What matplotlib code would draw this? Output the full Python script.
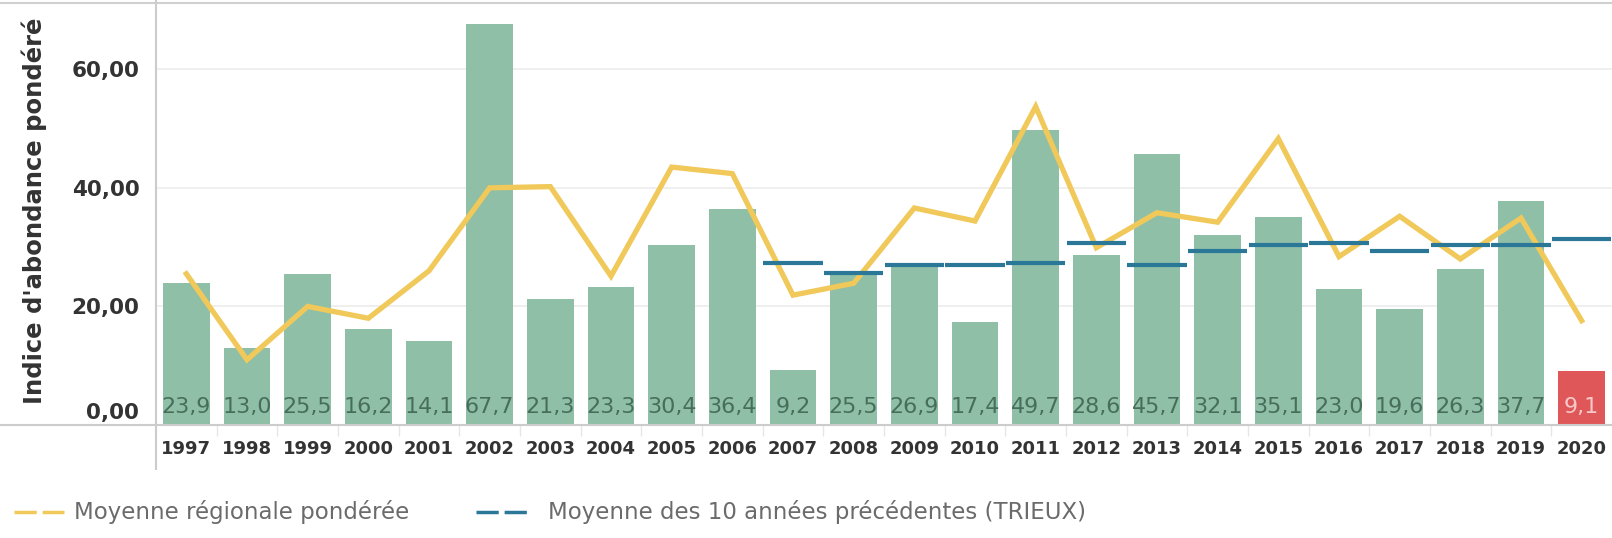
import numpy as np
import matplotlib
matplotlib.use("Agg")
import matplotlib.pyplot as plt
from matplotlib.lines import Line2D
from matplotlib.transforms import ScaledTranslation

# Données
annees = list(range(1997, 2021))
indice = [23.9, 13.0, 25.5, 16.2, 14.1, 67.7, 21.3, 23.3, 30.4, 36.4, 9.2, 25.5,
          26.9, 17.4, 49.7, 28.6, 45.7, 32.1, 35.1, 23.0, 19.6, 26.3, 37.7, 9.1]
moy_regionale = [25.5, 11.0, 20.0, 18.0, 26.0, 40.0, 40.2, 25.1, 43.5, 42.4, 21.9, 23.9,
                 36.6, 34.4, 53.7, 29.9, 35.8, 34.2, 48.3, 28.4, 35.2, 28.0, 34.9, 17.6]
annees_moy10 = list(range(2007, 2021))
moy_10ans = [27.4, 25.7, 26.9, 26.9, 27.3, 30.7, 26.9, 29.3, 30.3, 30.7, 29.4, 30.4, 30.4, 31.4]
yticks = [0, 20, 40, 60]

VERT = '#8fbfa7'
ROUGE = '#e0575a'
JAUNE = '#f0c95a'
BLEU = '#2a7798'
GRIS_AXE = '#cccccc'

W, H = 1612, 538
fig = plt.figure(figsize=(W / 100, H / 100), dpi=100)
ax = fig.add_axes([156 / W, 1 - 425 / H, 1 - 156 / W, (425 - 4) / H])

x = np.arange(len(annees))
couleurs = [VERT] * (len(annees) - 1) + [ROUGE]
ax.bar(x, indice, width=0.77, color=couleurs, zorder=2)

# étiquettes de valeur en bas des barres
for xi, v, c in zip(x, indice, couleurs):
    tc = '#f7c9c9' if c == ROUGE else '#476e5b'
    ax.text(xi, 3.0, f"{v:.1f}".replace('.', ','), ha='center', va='center',
            fontsize=16, color=tc, zorder=3)

ax.plot(x, moy_regionale, color=JAUNE, lw=3.8, solid_joinstyle='miter', zorder=4)

x10 = np.array([annees.index(a) for a in annees_moy10])
ax.hlines(moy_10ans, x10 - 0.49, x10 + 0.49, color=BLEU, lw=3.0, zorder=5)

ax.set_xlim(-0.5, len(annees) - 0.5)
ax.set_ylim(0, 71)
ax.set_yticks(yticks)
ax.set_yticklabels([f"{t:.2f}".replace('.', ',') for t in yticks])
ax.set_xticks(x)
ax.set_xticklabels([str(a) for a in annees])
ax.set_xticks(np.arange(0.5, len(annees) - 1, 1), minor=True)

ax.tick_params(axis='y', length=0, pad=12, labelsize=15.5, labelcolor='#333333')
ax.tick_params(axis='x', which='major', length=0, pad=11, labelsize=13, labelcolor='#333333')
ax.tick_params(axis='x', which='minor', length=8, width=1, color='#e6e6e6')
for lab in ax.get_yticklabels() + ax.get_xticklabels():
    lab.set_fontweight('bold')

# le libellé 0,00 est remonté au-dessus de la ligne de base
lab0 = ax.get_yticklabels()[0]
lab0.set_transform(lab0.get_transform() + ScaledTranslation(0, 0.14, fig.dpi_scale_trans))

ax.yaxis.grid(True, color='#ececec', lw=1.2, zorder=0)
ax.set_axisbelow(True)
for s in ax.spines.values():
    s.set_visible(False)

# lignes de cadre
fig.add_artist(Line2D([0, 1], [1 - 425 / H] * 2, color=GRIS_AXE, lw=1.5))
fig.add_artist(Line2D([0, 1], [1 - 3 / H] * 2, color='#d0d0d0', lw=1.5))
fig.add_artist(Line2D([156 / W] * 2, [1 - 469 / H, 1], color=GRIS_AXE, lw=1.5))

fig.text(34 / W, 1 - 211 / H, "Indice d'abondance pondéré", rotation=90,
         ha='center', va='center', fontsize=17.5, fontweight='bold', color='#333333')

# légende
ly = 1 - 512 / H
fig.add_artist(Line2D([14 / W, 64 / W], [ly, ly], color=JAUNE, lw=2.5,
                      linestyle=(0, (6.4, 1.7))))
fig.text(74 / W, ly, "Moyenne régionale pondérée", ha='left', va='center',
         fontsize=16.5, color='#6b6b6b')
fig.add_artist(Line2D([476 / W, 529 / W], [ly, ly], color=BLEU, lw=2.5,
                      linestyle=(0, (6.4, 1.7))))
fig.text(548 / W, ly, "Moyenne des 10 années précédentes (TRIEUX)", ha='left', va='center',
         fontsize=16.5, color='#6b6b6b')

fig.savefig('out.png', dpi=100)
